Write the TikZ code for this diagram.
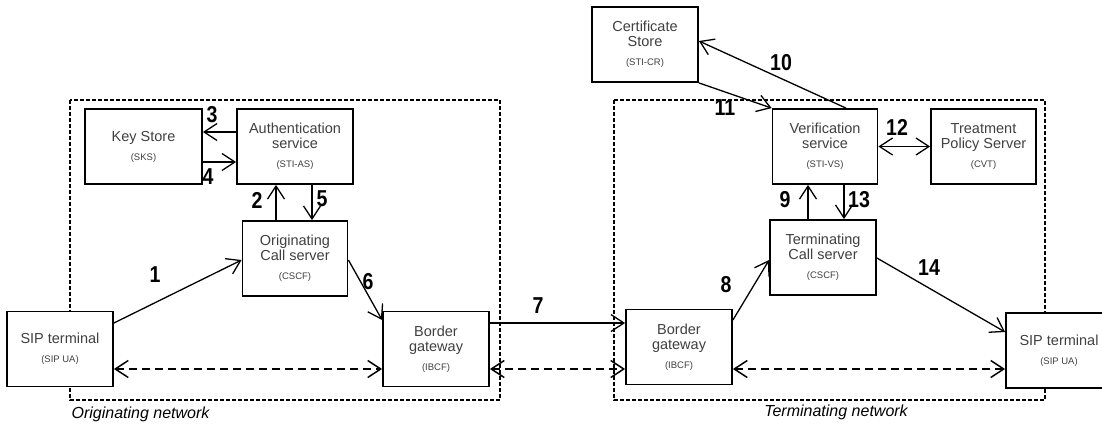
\documentclass[tikz,border=0pt]{standalone}
\usepackage{fontspec}
\setmainfont{Liberation Sans}
\newfontfamily\numfont[FakeStretch=0.85]{Liberation Sans}
\usetikzlibrary{arrows.meta}

\newcommand{\subl}[1]{{\fontsize{9.5}{15}\selectfont #1}}

\begin{document}
\begin{tikzpicture}[x=1pt, y=-1pt, line width = 1.3pt,
                    >={Straight Barb[length=13pt, width=17pt]},
                    box/.style = {draw, fill = white, line width = 1.8pt, minimum width = 106pt, minimum height = 75pt,
                                  align = center, text = black!75, inner sep = 0pt,
                                  font = \fontsize{14.5}{15}\selectfont},
                    num/.style = {font = \numfont\bfseries\fontsize{23}{23}\selectfont, inner sep = 0pt},
                    net/.style = {dash pattern = on 4pt off 2pt, line width = 1.2pt},
                    media/.style = {<->, dash pattern = on 8pt off 5pt, line width = 1.5pt},
                    zone/.style = {font = \itshape\fontsize{16}{16}\selectfont, inner sep = 0pt}]
  \useasboundingbox (0,0) rectangle (1102,424);

  % the two networks
  \draw [net] (70,100) rectangle (500,400);
  \draw [net] (614,100) rectangle (1045,400);
  \node [zone, anchor = west] (orignet) at (71,414) {Originating network};
  \node [zone] (termnet) at (836,412) {Terminating network};

  % originating side
  \node [box, minimum width = 117pt] (keys) at (143.5,146.5) {Key Store\\[4pt]\subl{(SKS)}};
  \node [box, minimum width = 116pt] (auth) at (295,146.5) {Authentication\\service\\[4pt]\subl{(STI-AS)}};
  \node [box, minimum width = 105pt] (ocs) at (295,258.5) {Originating\\Call server\\[4pt]\subl{(CSCF)}};
  \node [box] (sipa) at (60,349) {SIP terminal\\[4pt]\subl{(SIP UA)}};
  \node [box] (ibcfa) at (436,349) {Border\\gateway\\[4pt]\subl{(IBCF)}};

  % terminating side
  \node [box] (certs) at (645,44.5) {Certificate\\Store\\[4pt]\subl{(STI-CR)}};
  \node [box, minimum width = 105pt] (verif) at (825,146.5) {Verification\\service\\[4pt]\subl{(STI-VS)}};
  \node [box, minimum width = 105pt] (cvt) at (983.5,146.5) {Treatment\\Policy Server\\[4pt]\subl{(CVT)}};
  \node [box] (tcs) at (823,257.5) {Terminating\\Call server\\[4pt]\subl{(CSCF)}};
  \node [box] (ibcfb) at (679,347) {Border\\gateway\\[4pt]\subl{(IBCF)}};
  \node [box] (sipb) at (1059,350.5) {SIP terminal\\[4pt]\subl{(SIP UA)}};

  % signalling
  \draw [->] ([yshift=26pt]sipa.east) -- ([yshift=-1.5pt]ocs.west);
  \draw [->] ([xshift=-19pt]ocs.north) -- ([xshift=-19pt]auth.south);
  \draw [->] ([yshift=14.5pt]auth.west) -- ([yshift=14.5pt]keys.east);
  \draw [->] ([yshift=-15.5pt]keys.east) -- ([yshift=-15.5pt]auth.west);
  \draw [->] ([xshift=17pt]auth.south) -- ([xshift=17pt]ocs.north);
  \draw [->] ([yshift=-1.5pt]ocs.east) -- ([yshift=29pt]ibcfa.west);
  \draw [->] ([yshift=26pt]ibcfa.east) -- ([yshift=26pt]ibcfa.east -| ibcfb.west);
  \draw [->] ([yshift=27pt]ibcfb.east) -- ([yshift=-2.5pt]tcs.west);
  \draw [->] ([xshift=-15pt]tcs.north) -- ([xshift=-17pt]verif.south);
  \draw [->] ([xshift=21pt]verif.north) -- ([yshift=3.5pt]certs.east);
  \draw [->] (certs.south east) -- (verif.north west);
  \draw [<->] (verif.east) -- (cvt.west);
  \draw [->] ([xshift=19pt]verif.south) -- ([xshift=21pt]tcs.north);
  \draw [->] ([yshift=-0.5pt]tcs.east) -- ([yshift=18.5pt]sipb.west);

  % media path
  \draw [media] ([yshift=-20pt]sipa.east) -- ([yshift=-20pt]ibcfa.west);
  \draw [media] ([yshift=-20pt]ibcfa.east) -- ([yshift=-20pt]ibcfa.east -| ibcfb.west);
  \draw [media] ([yshift=-20pt]ibcfa.east -| ibcfb.east) -- ([yshift=-20pt]ibcfa.east -| sipb.west);

  % step numbers
  \node [num] (n1) at (155,275) {1};
  \node [num] (n2) at (257,200) {2};
  \node [num] (n3) at (212,115) {3};
  \node [num] (n4) at (208,177) {4};
  \node [num] (n5) at (322,199) {5};
  \node [num] (n6) at (368,282) {6};
  \node [num] (n7) at (538,306) {7};
  \node [num] (n8) at (726,285) {8};
  \node [num] (n9) at (785,200) {9};
  \node [num] (n10) at (781,63) {10};
  \node [num] (n11) at (725,108) {11};
  \node [num] (n12) at (897,127) {12};
  \node [num] (n13) at (859,200) {13};
  \node [num] (n14) at (929,268) {14};
\end{tikzpicture}
\end{document}
